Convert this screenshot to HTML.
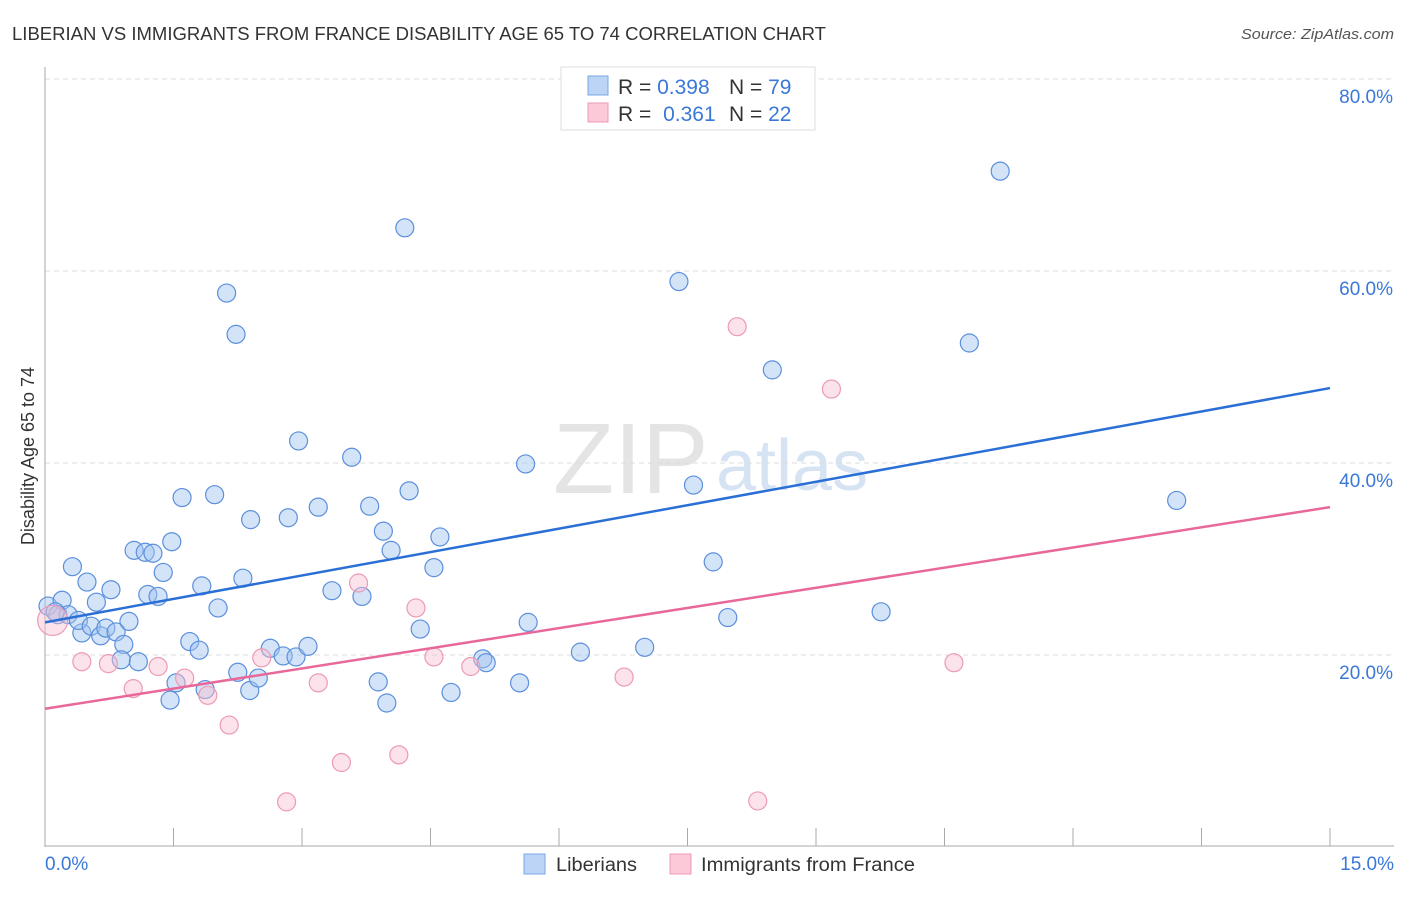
<!DOCTYPE html>
<html><head><meta charset="utf-8"><style>
body{margin:0;background:#fff;font-family:"Liberation Sans",sans-serif;}
svg text{font-family:"Liberation Sans",sans-serif;}
</style></head><body>
<svg id="chart" width="1406" height="892" viewBox="0 0 1406 892">
<text x="12" y="40" font-size="18" fill="#333" textLength="814" lengthAdjust="spacingAndGlyphs">LIBERIAN VS IMMIGRANTS FROM FRANCE DISABILITY AGE 65 TO 74 CORRELATION CHART</text>
<text x="1394" y="39" font-size="15" fill="#555" font-style="italic" text-anchor="end" textLength="153" lengthAdjust="spacingAndGlyphs">Source: ZipAtlas.com</text>
<g>
<text x="553" y="493" font-size="100" fill="#e4e4e4" font-family="Liberation Serif,serif">ZIP</text>
<text x="716" y="490" font-size="72" fill="#d6e3f3">atlas</text>
</g>
<g id="grid"></g><g id="axes"></g><g id="points"></g><g id="trends"></g>
<text x="34" y="456" font-size="18" fill="#333" text-anchor="middle" transform="rotate(-90 34 456)">Disability Age 65 to 74</text>
<g>
<rect x="561" y="67" width="254" height="63" fill="#fff" stroke="#ddd"/>
<rect x="588" y="76" width="20" height="19" fill="#bcd4f5" stroke="#7aa7e4"/>
<rect x="588" y="103" width="20" height="19" fill="#fbc9d8" stroke="#ee9ab5"/>
<text x="618" y="94" font-size="21" fill="#333">R = <tspan fill="#3a78d8">0.398</tspan></text>
<text x="729" y="94" font-size="21" fill="#333">N = <tspan fill="#3a78d8">79</tspan></text>
<text x="618" y="121" font-size="21" fill="#333">R = <tspan fill="#3a78d8" dx="6">0.361</tspan></text>
<text x="729" y="121" font-size="21" fill="#333">N = <tspan fill="#3a78d8">22</tspan></text>
</g>
<g>
<rect x="524" y="854" width="21" height="20" fill="#bcd4f5" stroke="#7aa7e4"/>
<text x="556" y="871" font-size="19" fill="#333" textLength="81" lengthAdjust="spacingAndGlyphs">Liberians</text>
<rect x="670" y="854" width="21" height="20" fill="#fbc9d8" stroke="#ee9ab5"/>
<text x="701" y="871" font-size="19" fill="#333" textLength="214" lengthAdjust="spacingAndGlyphs">Immigrants from France</text>
</g>
</svg>
<script>
const xTicks=[0,1.5,3,4.5,6,7.5,9,10.5,12,13.5,15];
const yTicks=[20,40,60,80];
const yTickLabels=["20.0%","40.0%","60.0%","80.0%"];
const liberianX=[0.035,0.20,0.15,0.27,0.32,0.49,0.60,0.43,0.39,0.54,0.65,0.71,0.77,0.83,0.92,0.98,0.89,1.09,1.04,1.17,1.26,1.20,1.32,1.38,1.48,1.60,1.53,1.46,1.69,1.80,1.83,1.87,1.98,2.02,2.12,2.23,2.25,2.31,2.39,2.40,2.49,2.63,2.78,2.84,2.93,2.96,3.07,3.19,3.35,3.58,3.70,3.79,3.89,3.95,3.99,4.04,4.20,4.25,4.38,4.54,4.61,4.74,5.11,5.15,5.54,5.61,5.64,6.25,7.00,7.40,7.57,7.80,7.97,8.49,9.76,10.79,11.15,13.21,0.12];
const liberianY=[25.1,25.7,24.2,24.2,29.2,27.6,25.5,22.3,23.6,23.0,22.0,22.8,26.8,22.4,21.1,23.5,19.5,19.3,30.9,30.7,30.6,26.3,26.1,28.6,31.8,36.4,17.1,15.3,21.4,20.5,27.2,16.4,36.7,24.9,57.7,53.4,18.2,28.0,16.3,34.1,17.6,20.7,19.9,34.3,19.8,42.3,20.9,35.4,26.7,40.6,26.1,35.5,17.2,32.9,15.0,30.9,64.5,37.1,22.7,29.1,32.3,16.1,19.6,19.2,17.1,39.9,23.4,20.3,20.8,58.9,37.7,29.7,23.9,49.7,24.5,52.5,70.4,36.1,24.5];
const franceX=[0.09,0.43,0.74,1.03,1.32,1.63,1.90,2.15,2.53,2.82,3.19,3.46,3.66,4.13,4.33,4.54,4.97,6.76,8.08,8.32,9.18,10.61];
const franceY=[23.6,19.3,19.1,16.5,18.8,17.6,15.8,12.7,19.7,4.7,17.1,8.8,27.5,9.6,24.9,19.8,18.8,17.7,54.2,4.8,47.7,19.2];
const trendIntercept=[23.4,14.4];
const trendSlope=[1.627,1.4];
const NS="http://www.w3.org/2000/svg";
const sx=v=>45+v/15*1285;
const sy=v=>847-v/20*192;
function mk(t,a,p){const e=document.createElementNS(NS,t);for(const k in a)e.setAttribute(k,a[k]);p.appendChild(e);return e;}
const grid=document.getElementById('grid'),axes=document.getElementById('axes'),pts=document.getElementById('points'),tr=document.getElementById('trends');
yTicks.forEach((v,i)=>{
 const l=mk('line',{x1:45,x2:1394,y1:sy(v),y2:sy(v),stroke:'#ddd','stroke-dasharray':'5,4'},grid);
 
 
 const t=mk('text',{x:1393,y:sy(v)+24,'font-size':19,fill:'#3a78d8','text-anchor':'end'},grid);
 t.textContent=yTickLabels[i];
 
 
});
const ax=mk('line',{x1:45,x2:45,y1:67,y2:847,stroke:'#aaa'},axes);


const bx=mk('line',{x1:45,x2:1394,y1:846,y2:846,stroke:'#aaa'},axes);


xTicks.forEach(v=>{
 const l=mk('line',{x1:sx(v),x2:sx(v),y1:828,y2:846,stroke:'#aaa'},axes);
 
 
});
const xl0=mk('text',{x:45,y:870,'font-size':19,fill:'#3a78d8'},axes);xl0.textContent='0.0%';


const xl1=mk('text',{x:1394,y:870,'font-size':19,fill:'#3a78d8','text-anchor':'end'},axes);xl1.textContent='15.0%';


liberianX.forEach((x,i)=>{
 const c=mk('circle',{cx:sx(x),cy:sy(liberianY[i]),r:9,fill:'rgba(160,195,240,0.45)',stroke:'#5b8fdc','stroke-width':1.2},pts);
 
 
});
franceX.forEach((x,i)=>{
 const c=mk('circle',{cx:sx(x),cy:sy(franceY[i]),r:i===0?15:9,fill:'rgba(248,190,208,0.45)',stroke:'#ec9ab5','stroke-width':1.2},pts);
 
 
});
const colors=['#2a6fd6','#e8689a'];const names=['liberian-trend-line','france-trend-line'];
trendIntercept.forEach((b,i)=>{
 const l=mk('line',{x1:sx(0),y1:sy(b),x2:sx(15),y2:sy(b+trendSlope[i]*15),stroke:colors[i],'stroke-width':2.5},tr);
 
 
});
</script>
</body></html>
